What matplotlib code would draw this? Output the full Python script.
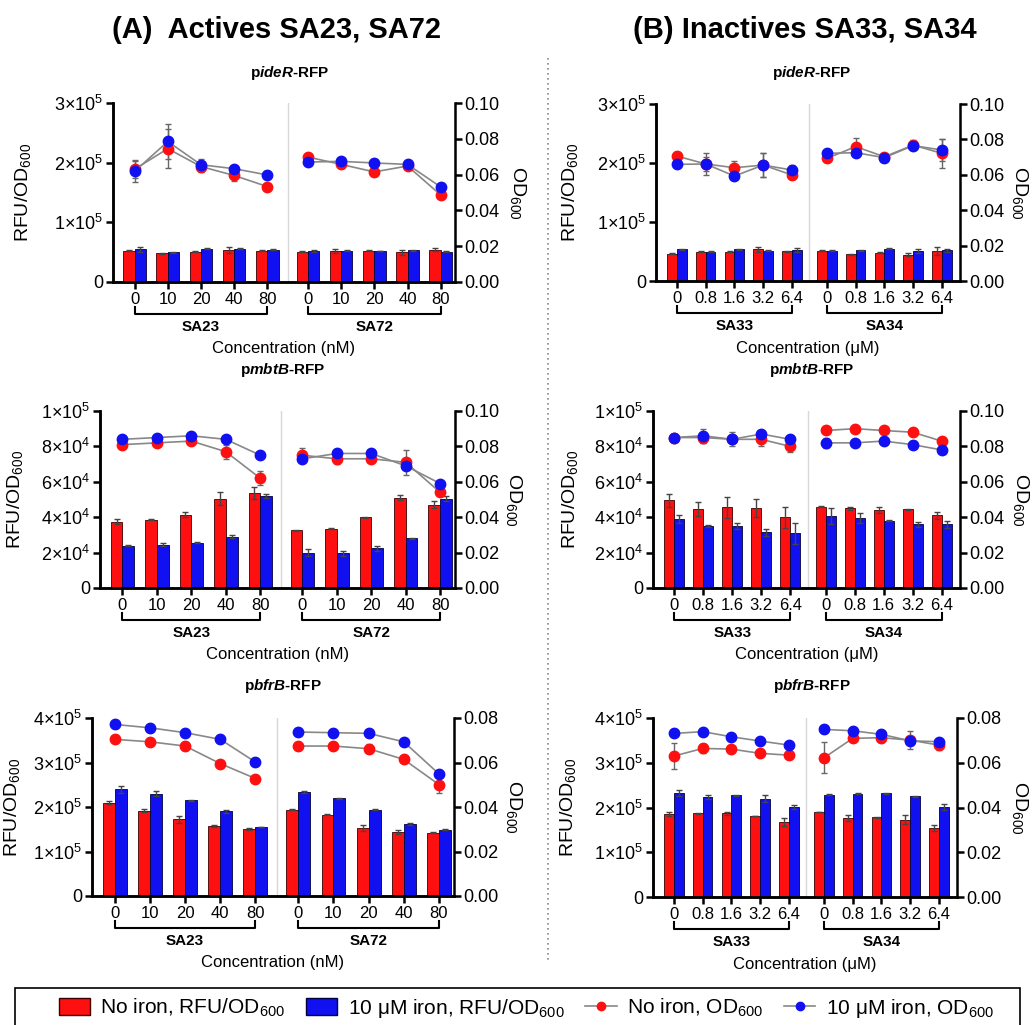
import numpy as np
import matplotlib
matplotlib.use('Agg')
import matplotlib.pyplot as plt
from matplotlib.patches import Patch, Rectangle
from matplotlib.lines import Line2D

plt.rcParams['font.family'] = ['Liberation Sans', 'DejaVu Sans']
plt.rcParams['mathtext.fontset'] = 'custom'
plt.rcParams['mathtext.rm'] = 'Liberation Sans'
plt.rcParams['mathtext.it'] = 'Liberation Sans:italic'
plt.rcParams['mathtext.bf'] = 'Liberation Sans:bold'
plt.rcParams['mathtext.bfit'] = 'Liberation Sans:italic:bold'

# x tick labels / group names
conc_A = ['0', '10', '20', '40', '80']
conc_B = ['0', '0.8', '1.6', '3.2', '6.4']
groups_A = ['SA23', 'SA72']
groups_B = ['SA33', 'SA34']

# ---- pideR-RFP, actives
ideR_A_bar_red = [52500, 48000, 50800, 53700, 52000, 50800, 52000, 52500, 49700, 53700]
ideR_A_bar_red_err = [800, 800, 800, 4500, 800, 800, 3500, 800, 4500, 2500]
ideR_A_bar_blue = [54800, 49700, 55400, 55400, 54200, 52000, 52500, 52000, 53100, 50800]
ideR_A_bar_blue_err = [4500, 800, 800, 800, 800, 1500, 800, 500, 800, 500]
ideR_A_od_red = [0.0630, 0.0745, 0.0645, 0.0595, 0.0533, 0.0698, 0.0657, 0.0615, 0.0648, 0.0486]
ideR_A_od_red_err = [0.005, 0.011, 0.003, 0.003, 0.001, 0.001, 0.001, 0.001, 0.001, 0.001]
ideR_A_od_blue = [0.0618, 0.0785, 0.0655, 0.0633, 0.0598, 0.0670, 0.0674, 0.0665, 0.0657, 0.0531]
ideR_A_od_blue_err = [0.006, 0.010, 0.003, 0.001, 0.002, 0.001, 0.001, 0.001, 0.001, 0.001]

# ---- pideR-RFP, inactives
ideR_B_bar_red = [46600, 49400, 49400, 53400, 50600, 51100, 45500, 48300, 44900, 50600]
ideR_B_bar_red_err = [1000, 800, 800, 5000, 800, 800, 800, 800, 2000, 7000]
ideR_B_bar_blue = [53400, 49400, 53900, 51100, 52200, 51100, 52200, 55000, 50600, 52200]
ideR_B_bar_blue_err = [800, 800, 800, 800, 3000, 800, 800, 1000, 3000, 2500]
ideR_B_od_red = [0.0706, 0.0661, 0.0640, 0.0655, 0.0599, 0.0693, 0.0759, 0.0702, 0.0768, 0.0721]
ideR_B_od_red_err = [0.002, 0.006, 0.004, 0.007, 0.002, 0.002, 0.005, 0.001, 0.003, 0.008]
ideR_B_od_blue = [0.0659, 0.0661, 0.0593, 0.0655, 0.0627, 0.0721, 0.0725, 0.0697, 0.0765, 0.0740]
ideR_B_od_blue_err = [0.001, 0.004, 0.001, 0.007, 0.003, 0.002, 0.002, 0.001, 0.002, 0.006]

# ---- pmbtB-RFP, actives
mbtB_A_bar_red = [37500, 38500, 41500, 50500, 53500, 32500, 33500, 40000, 51000, 47000]
mbtB_A_bar_red_err = [1500, 300, 1500, 3500, 3500, 300, 300, 300, 1500, 2000]
mbtB_A_bar_blue = [24000, 24500, 25500, 29000, 52000, 20000, 19500, 22500, 28000, 50500]
mbtB_A_bar_blue_err = [300, 1000, 300, 800, 1000, 2000, 1500, 1500, 500, 1500]
mbtB_A_od_red = [0.081, 0.082, 0.083, 0.077, 0.062, 0.075, 0.073, 0.073, 0.071, 0.054]
mbtB_A_od_red_err = [0.001, 0.001, 0.0015, 0.004, 0.004, 0.004, 0.003, 0.001, 0.007, 0.001]
mbtB_A_od_blue = [0.084, 0.085, 0.086, 0.084, 0.075, 0.073, 0.076, 0.076, 0.069, 0.059]
mbtB_A_od_blue_err = [0.001, 0.001, 0.001, 0.001, 0.001, 0.002, 0.001, 0.001, 0.001, 0.001]

# ---- pmbtB-RFP, inactives
mbtB_B_bar_red = [49500, 44500, 45500, 45000, 40000, 46000, 45000, 44000, 44500, 41000]
mbtB_B_bar_red_err = [3500, 4000, 6000, 5000, 6000, 500, 800, 1500, 300, 2000]
mbtB_B_bar_blue = [39000, 35000, 35000, 31500, 31000, 40500, 39500, 38000, 36000, 36000]
mbtB_B_bar_blue_err = [2500, 800, 1500, 2000, 6000, 4500, 3000, 300, 1500, 2000]
mbtB_B_od_red = [0.085, 0.085, 0.084, 0.084, 0.080, 0.089, 0.090, 0.089, 0.088, 0.083]
mbtB_B_od_red_err = [0.002, 0.003, 0.004, 0.004, 0.003, 0.001, 0.001, 0.001, 0.001, 0.001]
mbtB_B_od_blue = [0.085, 0.086, 0.084, 0.087, 0.084, 0.082, 0.082, 0.083, 0.081, 0.078]
mbtB_B_od_blue_err = [0.002, 0.004, 0.002, 0.001, 0.001, 0.003, 0.001, 0.001, 0.002, 0.001]

# ---- pbfrB-RFP, actives
bfrB_A_bar_red = [210000, 192000, 172000, 157000, 150000, 194000, 183000, 153000, 144000, 142000]
bfrB_A_bar_red_err = [3000, 3000, 8000, 3000, 2000, 1000, 1000, 6000, 4000, 1000]
bfrB_A_bar_blue = [240000, 230000, 215000, 190000, 155000, 233000, 220000, 194000, 162000, 149000]
bfrB_A_bar_blue_err = [8000, 6000, 1000, 3000, 1000, 2000, 1000, 1000, 3000, 1000]
bfrB_A_od_red = [0.0704, 0.0693, 0.0674, 0.0595, 0.0528, 0.0674, 0.0674, 0.0662, 0.0614, 0.0501]
bfrB_A_od_red_err = [0.001, 0.001, 0.002, 0.001, 0.001, 0.001, 0.001, 0.002, 0.001, 0.004]
bfrB_A_od_blue = [0.0771, 0.0756, 0.0734, 0.0704, 0.0602, 0.0737, 0.0734, 0.0731, 0.0693, 0.0549]
bfrB_A_od_blue_err = [0.0015, 0.001, 0.001, 0.001, 0.001, 0.001, 0.001, 0.001, 0.001, 0.001]

# ---- pbfrB-RFP, inactives
bfrB_B_bar_red = [185000, 187000, 187000, 181000, 168000, 190000, 177000, 178000, 173000, 155000]
bfrB_B_bar_red_err = [5000, 1000, 3000, 1000, 9000, 1000, 7000, 1000, 10000, 7000]
bfrB_B_bar_blue = [232000, 224000, 227000, 220000, 201000, 229000, 231000, 232000, 225000, 201000]
bfrB_B_bar_blue_err = [6000, 4000, 1000, 8000, 4000, 1000, 1000, 1000, 1000, 6000]
bfrB_B_od_red = [0.0630, 0.0664, 0.0661, 0.0642, 0.0634, 0.0622, 0.0709, 0.0712, 0.0701, 0.0679]
bfrB_B_od_red_err = [0.006, 0.002, 0.001, 0.001, 0.0015, 0.007, 0.001, 0.002, 0.004, 0.002]
bfrB_B_od_blue = [0.0731, 0.0739, 0.0716, 0.0697, 0.0679, 0.0749, 0.0743, 0.0727, 0.0698, 0.0694]
bfrB_B_od_blue_err = [0.001, 0.001, 0.001, 0.001, 0.001, 0.001, 0.001, 0.001, 0.001, 0.001]

RED = '#ff1010'
BLUE = '#1010f0'
W, H = 1032, 1025

fig = plt.figure(figsize=(W / 100, H / 100), dpi=100)

xpos = np.array([0, 1, 2, 3, 4, 5.22, 6.22, 7.22, 8.22, 9.22])
divider = 4.61

rfu_top = (3e5, [0, 1e5, 2e5, 3e5], ['0', r'$1{\times}10^5$', r'$2{\times}10^5$', r'$3{\times}10^5$'])
rfu_mid = (1e5, [0, 2e4, 4e4, 6e4, 8e4, 1e5],
           ['0', r'$2{\times}10^4$', r'$4{\times}10^4$', r'$6{\times}10^4$', r'$8{\times}10^4$', r'$1{\times}10^5$'])
rfu_bot = (4e5, [0, 1e5, 2e5, 3e5, 4e5],
           ['0', r'$1{\times}10^5$', r'$2{\times}10^5$', r'$3{\times}10^5$', r'$4{\times}10^5$'])

# (box in pixels: left, right, top, bottom), data, y axis setup, ylabel x pixels
panels = [
    ((113, 455, 103, 282), 'A', ideR_A_bar_red, ideR_A_bar_red_err, ideR_A_bar_blue, ideR_A_bar_blue_err,
     ideR_A_od_red, ideR_A_od_red_err, ideR_A_od_blue, ideR_A_od_blue_err, rfu_top, 0.10, 33, 518),
    ((656, 960, 104, 281), 'B', ideR_B_bar_red, ideR_B_bar_red_err, ideR_B_bar_blue, ideR_B_bar_blue_err,
     ideR_B_od_red, ideR_B_od_red_err, ideR_B_od_blue, ideR_B_od_blue_err, rfu_top, 0.10, 580, 1020),
    ((100, 455, 411, 588), 'A', mbtB_A_bar_red, mbtB_A_bar_red_err, mbtB_A_bar_blue, mbtB_A_bar_blue_err,
     mbtB_A_od_red, mbtB_A_od_red_err, mbtB_A_od_blue, mbtB_A_od_blue_err, rfu_mid, 0.10, 25, 514),
    ((653, 960, 411, 588), 'B', mbtB_B_bar_red, mbtB_B_bar_red_err, mbtB_B_bar_blue, mbtB_B_bar_blue_err,
     mbtB_B_od_red, mbtB_B_od_red_err, mbtB_B_od_blue, mbtB_B_od_blue_err, rfu_mid, 0.10, 580, 1021),
    ((92, 454, 718, 896), 'A', bfrB_A_bar_red, bfrB_A_bar_red_err, bfrB_A_bar_blue, bfrB_A_bar_blue_err,
     bfrB_A_od_red, bfrB_A_od_red_err, bfrB_A_od_blue, bfrB_A_od_blue_err, rfu_bot, 0.08, 22, 514),
    ((653, 957, 718, 897), 'B', bfrB_B_bar_red, bfrB_B_bar_red_err, bfrB_B_bar_blue, bfrB_B_bar_blue_err,
     bfrB_B_od_red, bfrB_B_od_red_err, bfrB_B_od_blue, bfrB_B_od_blue_err, rfu_bot, 0.08, 578, 1020),
]

bw = 0.34
for box, side, br, bre, bb, bbe, odr, odre, odb, odbe, rfu, odmax, ylx, y2x in panels:
    l, r, t, b = box
    ax = fig.add_axes([l / W, 1 - b / H, (r - l) / W, (b - t) / H])
    ax2 = ax.twinx()
    ekw = dict(ecolor='#444444', elinewidth=1.0, capsize=2.5, capthick=1.0)
    ax.bar(xpos - bw / 2, br, bw, color=RED, edgecolor='#3a0000', linewidth=0.6,
           yerr=bre, error_kw=ekw, zorder=2)
    ax.bar(xpos + bw / 2, bb, bw, color=BLUE, edgecolor='#00003a', linewidth=0.6,
           yerr=bbe, error_kw=ekw, zorder=2)
    ax.axvline(divider, color='#d8d8d8', lw=1.0, zorder=1)
    for s in (slice(0, 5), slice(5, 10)):
        for vals, errs, col in ((odr, odre, RED), (odb, odbe, BLUE)):
            ax2.errorbar(xpos[s], vals[s], yerr=errs[s], color='#888888', lw=1.2,
                         ecolor='#666666', elinewidth=1.0, capsize=2.5, capthick=1.0,
                         marker='o', ms=7.5, mfc=col, mec=col, zorder=3)

    if side == 'A':
        ax.set_xlim(-0.65, 9.65)
        labels, grp, unit = conc_A, groups_A, 'Concentration (nM)'
    else:
        ax.set_xlim(-0.73, 9.85)
        labels, grp, unit = conc_B, groups_B, 'Concentration (\u03bcM)'
    ax.set_xticks(xpos)
    ax.set_xticklabels(labels * 2, fontsize=12)
    ymax, yt, ytl = rfu
    ax.set_ylim(0, ymax)
    ax.set_yticks(yt)
    ax.set_yticklabels(ytl, fontsize=13)
    ax2.set_ylim(0, odmax)
    ax2.set_yticks(np.arange(0, odmax + 1e-9, 0.02))
    ax2.set_yticklabels(['%.2f' % v for v in np.arange(0, odmax + 1e-9, 0.02)], fontsize=13)
    for a in (ax, ax2):
        for sp in a.spines.values():
            sp.set_linewidth(1.8)
        a.spines['top'].set_visible(False)
        a.tick_params(width=1.8, length=5, pad=2)
    ax.spines['right'].set_visible(False)

    ax.set_ylabel(r'RFU/OD$_{600}$', fontsize=14)
    ax.yaxis.set_label_coords((ylx - l) / (r - l), 0.5)
    ax2.set_ylabel(r'OD$_{600}$', fontsize=14, rotation=270, va='center')
    ax2.yaxis.set_label_coords((y2x - l) / (r - l), 0.5)

    hp = b - t
    yb = -32 / hp
    ye = -25 / hp
    for g, s in zip(grp, (slice(0, 5), slice(5, 10))):
        x0, x1 = xpos[s][0], xpos[s][-1]
        ax.plot([x0, x0, x1, x1], [ye, yb, yb, ye], color='black', lw=1.5,
                transform=ax.get_xaxis_transform(), clip_on=False)
        ax.text((x0 + x1) / 2, -45 / hp, g, transform=ax.get_xaxis_transform(),
                ha='center', va='center', fontsize=11, fontweight='bold')
    ax.text(0.5, -67 / hp, unit, transform=ax.transAxes, ha='center', va='center', fontsize=12)

# panel titles
fig.text(276 / W, 1 - 30 / H, '(A)  Actives SA23, SA72', ha='center', va='center',
         fontsize=21, fontweight='bold')
fig.text(805 / W, 1 - 30 / H, '(B) Inactives SA33, SA34', ha='center', va='center',
         fontsize=21, fontweight='bold')
for xc, sub_y, name in [(290, 73, 'ideR'), (812, 73, 'ideR'), (283, 370, 'mbtB'),
                        (812, 370, 'mbtB'), (283, 686, 'bfrB'), (812, 686, 'bfrB')]:
    fig.text(xc / W, 1 - sub_y / H, r'p$\mathbfit{%s}$-RFP' % name, ha='center', va='center',
             fontsize=11, fontweight='bold')

# dotted separator
fig.add_artist(Line2D([548 / W, 548 / W], [1 - 58 / H, 1 - 960 / H], transform=fig.transFigure,
                      color='#888888', lw=1.2, ls=(0, (1, 2))))

# legend
fig.add_artist(Rectangle((15 / W, -0.01), 1005 / W, 0.01 + 37 / H, transform=fig.transFigure,
                         facecolor='none', edgecolor='black', lw=1.2))
handles = [Patch(facecolor=RED, edgecolor='#3a0000'),
           Patch(facecolor=BLUE, edgecolor='#00003a'),
           Line2D([], [], color='#888888', marker='o', mfc=RED, mec=RED, ms=6, lw=1.2),
           Line2D([], [], color='#888888', marker='o', mfc=BLUE, mec=BLUE, ms=6, lw=1.2)]
labels = [r'No iron, RFU/OD$_{600}$', '10 \u03bcM iron, RFU/OD$_{600}$',
          r'No iron, OD$_{600}$', '10 \u03bcM iron, OD$_{600}$']
fig.legend(handles, labels, loc='center', bbox_to_anchor=(0.51, 1 - 1008 / H), ncol=4,
           frameon=False, fontsize=15, handlelength=1.5, handleheight=0.9, handletextpad=0.5,
           columnspacing=1.0)

fig.savefig('out.png', dpi=100)
